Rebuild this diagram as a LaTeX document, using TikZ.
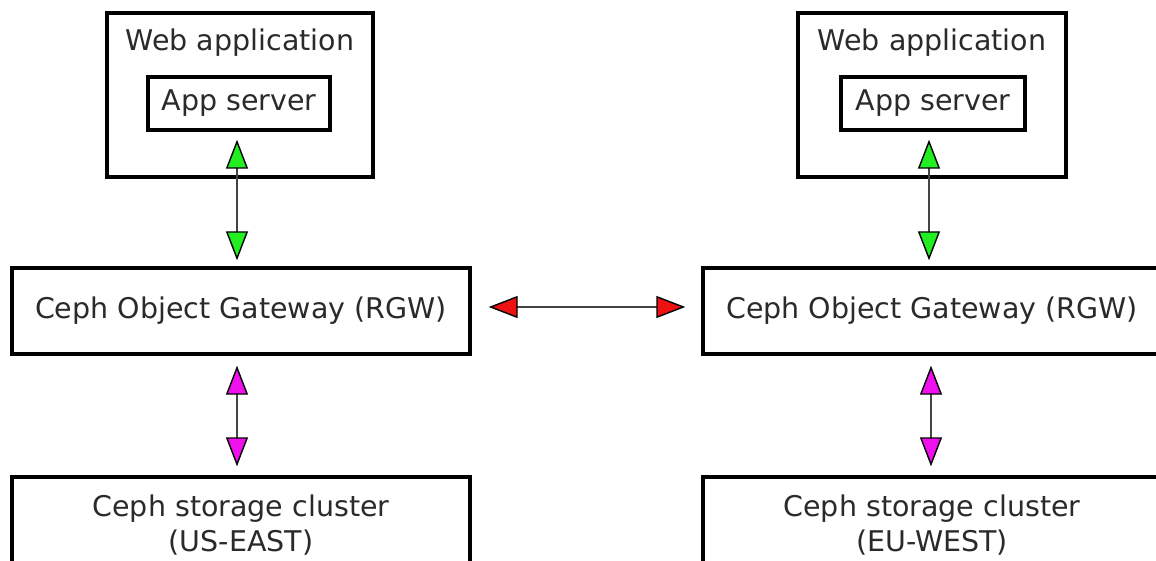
\documentclass[tikz,border=0pt]{standalone}
\usepackage{fontspec}
\setmainfont{DejaVu Sans}
\usetikzlibrary{arrows.meta}
\definecolor{txtgray}{HTML}{2A2A2A}
\definecolor{linegray}{HTML}{444444}
\definecolor{tipgreen}{HTML}{22EE22}
\definecolor{tipmagenta}{HTML}{EE11EE}
\definecolor{tipred}{HTML}{EE1111}
\tikzset{
  box/.style={draw=black, line width=3.4pt, fill=white, inner sep=0pt, text=txtgray,
    font=\fontsize{28.5}{35}\selectfont, align=center},
  lbl/.style={inner sep=0pt, text=txtgray, font=\fontsize{28.5}{35}\selectfont},
  conn/.style={line width=2pt, draw=linegray},
  gtip/.tip={Triangle[length=29pt, width=22pt, fill=tipgreen, color=black, line width=1.4pt]},
  mtip/.tip={Triangle[length=29pt, width=22pt, fill=tipmagenta, color=black, line width=1.4pt]},
  rtip/.tip={Triangle[length=29pt, width=22pt, fill=tipred, color=black, line width=1.4pt]},
}
\begin{document}
\begin{tikzpicture}[x=1pt, y=-1pt]
\useasboundingbox (0,0) rectangle (1156,561);
\fill[white] (0,0) rectangle (1156,561);

% left column
\node[box, minimum width=266pt, minimum height=164pt] (wa1) at (240,95) {};
\node[lbl] (wa1t) at (240,43) {Web application};
\node[box, minimum width=182pt, minimum height=53pt] (as1) at (239,103.5) {App server};
\node[box, minimum width=458pt, minimum height=86pt] (gw1) at (241,311) {Ceph Object Gateway (RGW)};
\node[box, minimum width=458pt, minimum height=96pt] (sc1) at (241,525) {Ceph storage cluster\\(US-EAST)};

% right column
\node[box, minimum width=268pt, minimum height=164pt] (wa2) at (932,95) {};
\node[lbl] (wa2t) at (932,43) {Web application};
\node[box, minimum width=184pt, minimum height=53pt] (as2) at (933,103.5) {App server};
\node[box, minimum width=458pt, minimum height=86pt] (gw2) at (932,311) {Ceph Object Gateway (RGW)};
\node[box, minimum width=458pt, minimum height=96pt] (sc2) at (932,525) {Ceph storage cluster\\(EU-WEST)};

% connectors
\draw[conn, {gtip}-{gtip}, shorten <=8pt, shorten >=6pt] (as1.south -| 237,0) -- (gw1.north -| 237,0);
\draw[conn, {gtip}-{gtip}, shorten <=8pt, shorten >=6pt] (as2.south -| 929,0) -- (gw2.north -| 929,0);
\draw[conn, {mtip}-{mtip}, shorten <=10pt, shorten >=9pt] (gw1.south -| 237,0) -- (sc1.north -| 237,0);
\draw[conn, {mtip}-{mtip}, shorten <=10pt, shorten >=9pt] (gw2.south -| 931,0) -- (sc2.north -| 931,0);
\draw[conn, {rtip}-{rtip}, shorten <=17pt, shorten >=16pt] (gw1.east |- 0,307) -- (gw2.west |- 0,307);
\end{tikzpicture}
\end{document}
